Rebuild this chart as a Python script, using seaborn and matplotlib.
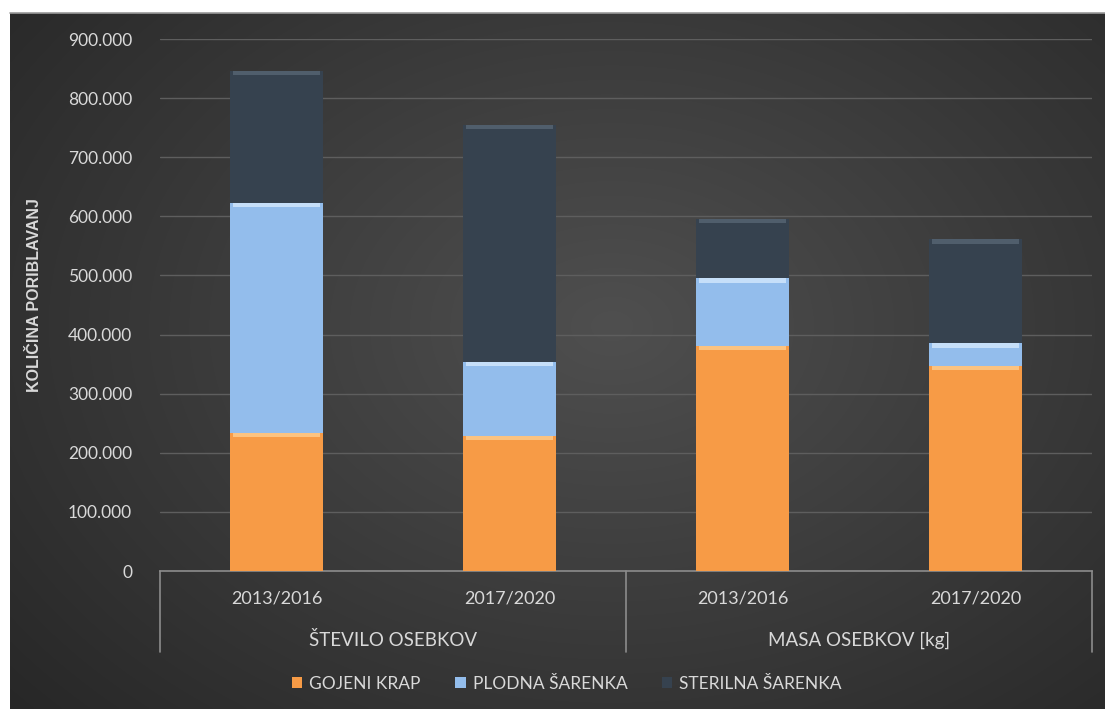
import numpy as np
import pandas as pd
import matplotlib
matplotlib.use("Agg")
import matplotlib.pyplot as plt
import matplotlib.transforms as mtransforms
from matplotlib.patches import Patch, Rectangle
import seaborn as sns

# ---- data ----
groups = ["ŠTEVILO OSEBKOV", "ŠTEVILO OSEBKOV", "MASA OSEBKOV [kg]", "MASA OSEBKOV [kg]"]
periods = ["2013/2016", "2017/2020", "2013/2016", "2017/2020"]
gojeni_krap = [233000, 229000, 381000, 347000]
plodna_sarenka = [389000, 124000, 114000, 38000]
sterilna_sarenka = [224000, 401000, 100000, 176000]
series_names = ["GOJENI KRAP", "PLODNA ŠARENKA", "STERILNA ŠARENKA"]
y_ticks = [0, 100000, 200000, 300000, 400000, 500000, 600000, 700000, 800000, 900000]

colors = ["#F79B46", "#93BDEC", "#36424F"]
highlights = ["#FFD59A", "#DCEEFF", "#5C6A79"]
text_col = "#D9D9D9"

sns.set_theme(style="white")
plt.rcParams["font.family"] = ["Lato", "DejaVu Sans"]

keys = [f"{g}|{p}" for g, p in zip(groups, periods)]
df = pd.DataFrame({
    "key": keys,
    "g": gojeni_krap,
    "p": plodna_sarenka,
    "s": sterilna_sarenka,
})
df["c1"] = df["g"]
df["c2"] = df["g"] + df["p"]
df["c3"] = df["g"] + df["p"] + df["s"]

fig = plt.figure(figsize=(11.05, 7.09), dpi=100, facecolor="white")

# background radial gradient
bg = fig.add_axes([10 / 1105, 0, 1 - 10 / 1105, 1 - 13 / 709], zorder=-10)
yy, xx = np.mgrid[0:1:300j, 0:1:460j]
r = np.sqrt(((xx - 0.55) / 0.75) ** 2 + ((yy - 0.45) / 0.85) ** 2)
img = np.clip(1 - r, 0, 1)
dark, light = 0.15, 0.31
vals = dark + (light - dark) * img
bg.imshow(np.dstack([vals, vals, vals]), aspect="auto", extent=[0, 1, 0, 1], interpolation="bilinear")
bg.set_axis_off()
bg.plot([0, 1], [1, 1], color="#9a9a9a", lw=1.2, transform=bg.transAxes, clip_on=False)

ax = fig.add_axes([160 / 1105, 1 - 571 / 709, (1092 - 160) / 1105, (571 - 39) / 709])
ax.set_facecolor("none")

hl_h = 7000
for col, c, hc in zip(["c3", "c2", "c1"], colors[::-1], highlights[::-1]):
    n_before = len(ax.patches)
    sns.barplot(data=df, x="key", y=col, order=keys, color=c, width=0.4,
                saturation=1, ax=ax, zorder=3, linewidth=0)
    for patch in list(ax.patches[n_before:]):
        x0, w, h = patch.get_x(), patch.get_width(), patch.get_height()
        ax.add_patch(Rectangle((x0 + w * 0.03, h - hl_h), w * 0.94, hl_h,
                               facecolor=hc, edgecolor="none", zorder=3, alpha=0.7))

ax.set_xlim(-0.5, 3.5)
ax.set_ylim(0, 900000)
ax.set_yticks(y_ticks)
ax.set_yticklabels([f"{v:,}".replace(",", ".") for v in y_ticks], color=text_col, fontsize=12.5)
ax.set_xticks(range(len(periods)))
ax.set_xticklabels(periods, color=text_col, fontsize=13)
ax.tick_params(axis="x", length=0, pad=14)
ax.tick_params(axis="y", length=0, pad=20)
ax.yaxis.grid(True, color="#5E5E5E", lw=1)
ax.set_axisbelow(True)
for s in ["top", "right", "left"]:
    ax.spines[s].set_visible(False)
ax.spines["bottom"].set_color("#8C8C8C")
ax.spines["bottom"].set_linewidth(1.2)
ax.set_xlabel("")
ax.set_ylabel("KOLIČINA PORIBLAVANJ", color=text_col, fontsize=11.5, fontweight="bold",
              family=["Liberation Sans", "DejaVu Sans"])
ax.yaxis.set_label_coords(-(160 - 42) / 932, (571 - 295) / 532)

# group labels and separators
trans = mtransforms.blended_transform_factory(ax.transData, ax.transAxes)
low = -(652 - 571) / 532
for xv in [-0.5, 1.5, 3.5]:
    ax.plot([xv, xv], [0, low], color="#8C8C8C", lw=1.2, transform=trans, clip_on=False)
uniq = []
for g in groups:
    if g not in uniq:
        uniq.append(g)
for g in uniq:
    idx = [i for i, gg in enumerate(groups) if gg == g]
    ax.text(np.mean(idx), -(640 - 571) / 532, g, transform=trans, ha="center", va="center",
            color=text_col, fontsize=13.5)

handles = [Patch(facecolor=c, edgecolor="none") for c in colors]
fig.legend(handles, series_names, loc="center", bbox_to_anchor=(0.513, 1 - 684 / 709), ncol=3,
           frameon=False, labelcolor=text_col, fontsize=12.5, handlelength=0.6, handleheight=0.6,
           columnspacing=2.0, handletextpad=0.4)

fig.savefig("out.png", dpi=100, facecolor=fig.get_facecolor())
